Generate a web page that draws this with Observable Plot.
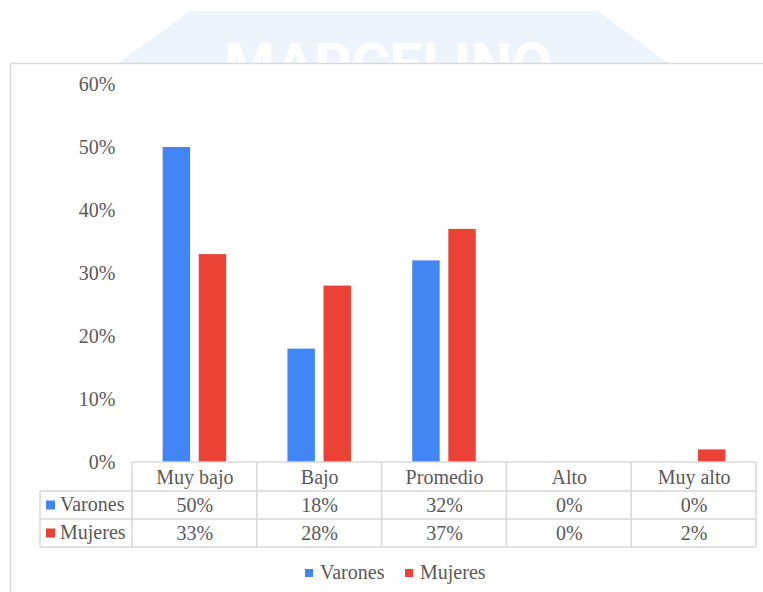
<!DOCTYPE html>
<html><head><meta charset="utf-8">
<script src="https://cdn.jsdelivr.net/npm/d3@7"></script>
<script src="https://cdn.jsdelivr.net/npm/@observablehq/plot@0.6"></script>
<style>
body{margin:0;background:#fff;}
#chart{position:absolute;left:0;top:0;}
</style>
</head><body><div id="chart"></div>
<script>
const categories = ["Muy bajo", "Bajo", "Promedio", "Alto", "Muy alto"];
const series = ["Varones", "Mujeres"];
const varones = [0.50, 0.18, 0.32, 0.00, 0.00];
const mujeres = [0.33, 0.28, 0.37, 0.00, 0.02];
const yTicks = [0, 0.1, 0.2, 0.3, 0.4, 0.5, 0.6];
const colors = ["#4285f4", "#ea4335"];
const watermark = "MARCELINO";

const data = categories.flatMap((c, i) => [
  {category: c, series: "Varones", value: varones[i]},
  {category: c, series: "Mujeres", value: mujeres[i]}
]);
const fmt = d3.format(".0%");
const font = "'Liberation Serif','Times New Roman',serif";
const textColor = "#595959";
const lineColor = "#d9d9d9";

const plot = Plot.plot({
  width: 763, height: 592,
  marginTop: 84, marginBottom: 130, marginLeft: 132, marginRight: 7,
  style: {fontFamily: font, fontSize: "20px", color: textColor, background: "transparent", overflow: "visible"},
  fx: {domain: categories, padding: 0, axis: null, round: false},
  x: {domain: series, paddingInner: 0.24, paddingOuter: 0.85, axis: null, round: false},
  y: {domain: [0, 0.6], axis: null},
  color: {domain: series, range: colors},
  marks: [
    Plot.axisY({ticks: yTicks, tickFormat: fmt, tickSize: 0, tickPadding: 17, fontSize: 20, fill: textColor, label: null}),
    Plot.barY(data.filter(d => d.value > 0), {fx: "category", x: "series", y: "value", fill: "series"}),
    Plot.text(categories, {fx: d => d, text: d => d, frameAnchor: "bottom", lineAnchor: "middle", dy: 15, fill: textColor, fontSize: 20}),
    Plot.text(data.filter(d => d.series === "Varones"), {fx: "category", text: d => fmt(d.value), frameAnchor: "bottom", lineAnchor: "middle", dy: 43, fill: textColor, fontSize: 20}),
    Plot.text(data.filter(d => d.series === "Mujeres"), {fx: "category", text: d => fmt(d.value), frameAnchor: "bottom", lineAnchor: "middle", dy: 71, fill: textColor, fontSize: 20})
  ]
});

const svg = d3.select(plot);
const fx = plot.scale("fx");
const ys = plot.scale("y");
const y0 = ys.apply(0);
const bw = fx.bandwidth;
const colX = categories.map(c => fx.apply(c));
colX.push(colX[colX.length - 1] + bw);
const rowY = [y0, y0 + 29, y0 + 57, y0 + 85];
const leftX = 40;

// background: watermark + chart box
const bg = svg.insert("g", ":first-child");
bg.append("path").attr("d", "M190,11 L598,11 L672,66 L114,66 Z").attr("fill", "#eef4fc");
bg.append("text").text(watermark)
  .attr("x", 388).attr("y", 84).attr("text-anchor", "middle")
  .attr("font-family", "Roboto, 'Open Sans', sans-serif").attr("font-weight", "bold")
  .attr("font-size", 58).attr("fill", "#ffffff")
  .attr("textLength", 328).attr("lengthAdjust", "spacingAndGlyphs");
bg.append("rect").attr("x", 10.5).attr("y", 63.5).attr("width", 900).attr("height", 700)
  .attr("fill", "#ffffff").attr("stroke", lineColor).attr("stroke-width", 1.5);

// table grid
const g = svg.append("g").attr("stroke", lineColor).attr("stroke-width", 1.5).attr("fill", "none");
g.append("line").attr("x1", colX[0]).attr("x2", colX[colX.length - 1]).attr("y1", rowY[0]).attr("y2", rowY[0]);
for (let i = 1; i < rowY.length; i++) {
  g.append("line").attr("x1", leftX).attr("x2", colX[colX.length - 1]).attr("y1", rowY[i]).attr("y2", rowY[i]);
}
colX.forEach(x => g.append("line").attr("x1", x).attr("x2", x).attr("y1", rowY[0]).attr("y2", rowY[3]));
g.append("line").attr("x1", leftX).attr("x2", leftX).attr("y1", rowY[1]).attr("y2", rowY[3]);

// row labels
series.forEach((s, i) => {
  const cy = (rowY[i + 1] + rowY[i + 2]) / 2;
  svg.append("rect").attr("x", 46).attr("y", cy - 4.5).attr("width", 9).attr("height", 9).attr("fill", colors[i]);
  svg.append("text").text(s).attr("x", 60).attr("y", cy).attr("dy", "0.32em")
    .attr("text-anchor", "start")
    .attr("font-family", font).attr("font-size", 20).attr("fill", textColor);
});

// legend
const legendX = [305, 405];
series.forEach((s, i) => {
  svg.append("rect").attr("x", legendX[i]).attr("y", 569).attr("width", 8).attr("height", 8).attr("fill", colors[i]);
  svg.append("text").text(s).attr("x", legendX[i] + 15).attr("y", 573).attr("dy", "0.32em")
    .attr("text-anchor", "start")
    .attr("font-family", font).attr("font-size", 20).attr("fill", textColor);
});

document.getElementById("chart").appendChild(plot);
</script>
</body></html>
